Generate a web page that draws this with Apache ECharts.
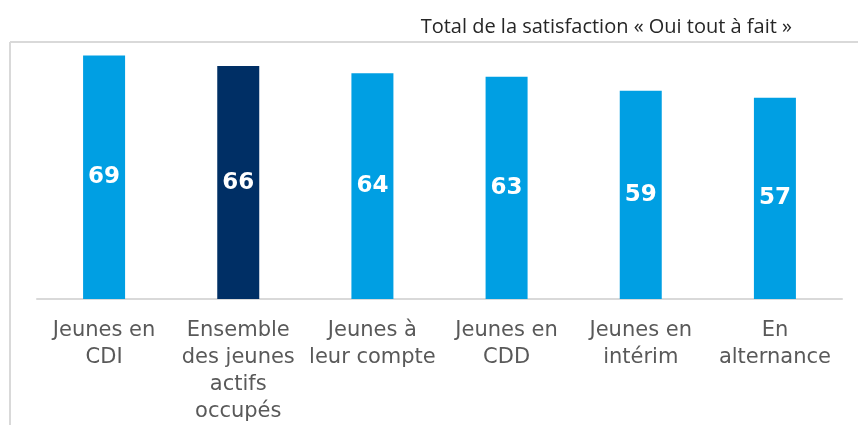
<!DOCTYPE html>
<html><head><meta charset="utf-8">
<script src="https://cdn.jsdelivr.net/npm/echarts@6/dist/echarts.min.js"></script>
<style>html,body{margin:0;padding:0;background:#fff}#c{width:858px;height:425px}</style>
</head><body><div id="c"></div>
<script>
const categories = ["Jeunes en\nCDI", "Ensemble\ndes jeunes\nactifs\noccupés", "Jeunes à\nleur compte", "Jeunes en\nCDD", "Jeunes en\nintérim", "En\nalternance"];
const values = [69, 66, 64, 63, 59, 57];
const barColors = ["#009FE3", "#002F65", "#009FE3", "#009FE3", "#009FE3", "#009FE3"];
const titleText = "Total de la satisfaction « Oui tout à fait »";

const FONT = "Verdana, 'DejaVu Sans', sans-serif";
const chart = echarts.init(document.getElementById('c'), null, {renderer: 'canvas'});
chart.setOption({
  animation: false,
  title: {
    text: titleText, right: 61, top: 12,
    textStyle: {fontFamily: 'Open Sans', fontWeight: 'normal', fontSize: 20, color: '#262626'}
  },
  graphic: [
    {type: 'line', shape: {x1: 10, y1: 42, x2: 858, y2: 42}, style: {stroke: '#d9d9d9', lineWidth: 2}},
    {type: 'line', shape: {x1: 10, y1: 42, x2: 10, y2: 425}, style: {stroke: '#d9d9d9', lineWidth: 2}}
  ],
  grid: {left: 37, right: 16, top: 52, bottom: 126},
  xAxis: {
    type: 'category', data: categories,
    axisLine: {lineStyle: {color: '#d9d9d9', width: 2}},
    axisTick: {show: false},
    axisLabel: {interval: 0, margin: 18, fontFamily: FONT, fontSize: 21, lineHeight: 27, color: '#595959'}
  },
  yAxis: {type: 'value', min: 0, max: 70, show: false, splitLine: {show: false}},
  series: [{
    type: 'bar', barWidth: 42,
    data: values.map((v, i) => ({value: v, itemStyle: {color: barColors[i]}})),
    label: {show: true, position: 'inside', color: '#fff', fontFamily: FONT, fontWeight: 'bold', fontSize: 23}
  }]
});
</script></body></html>
